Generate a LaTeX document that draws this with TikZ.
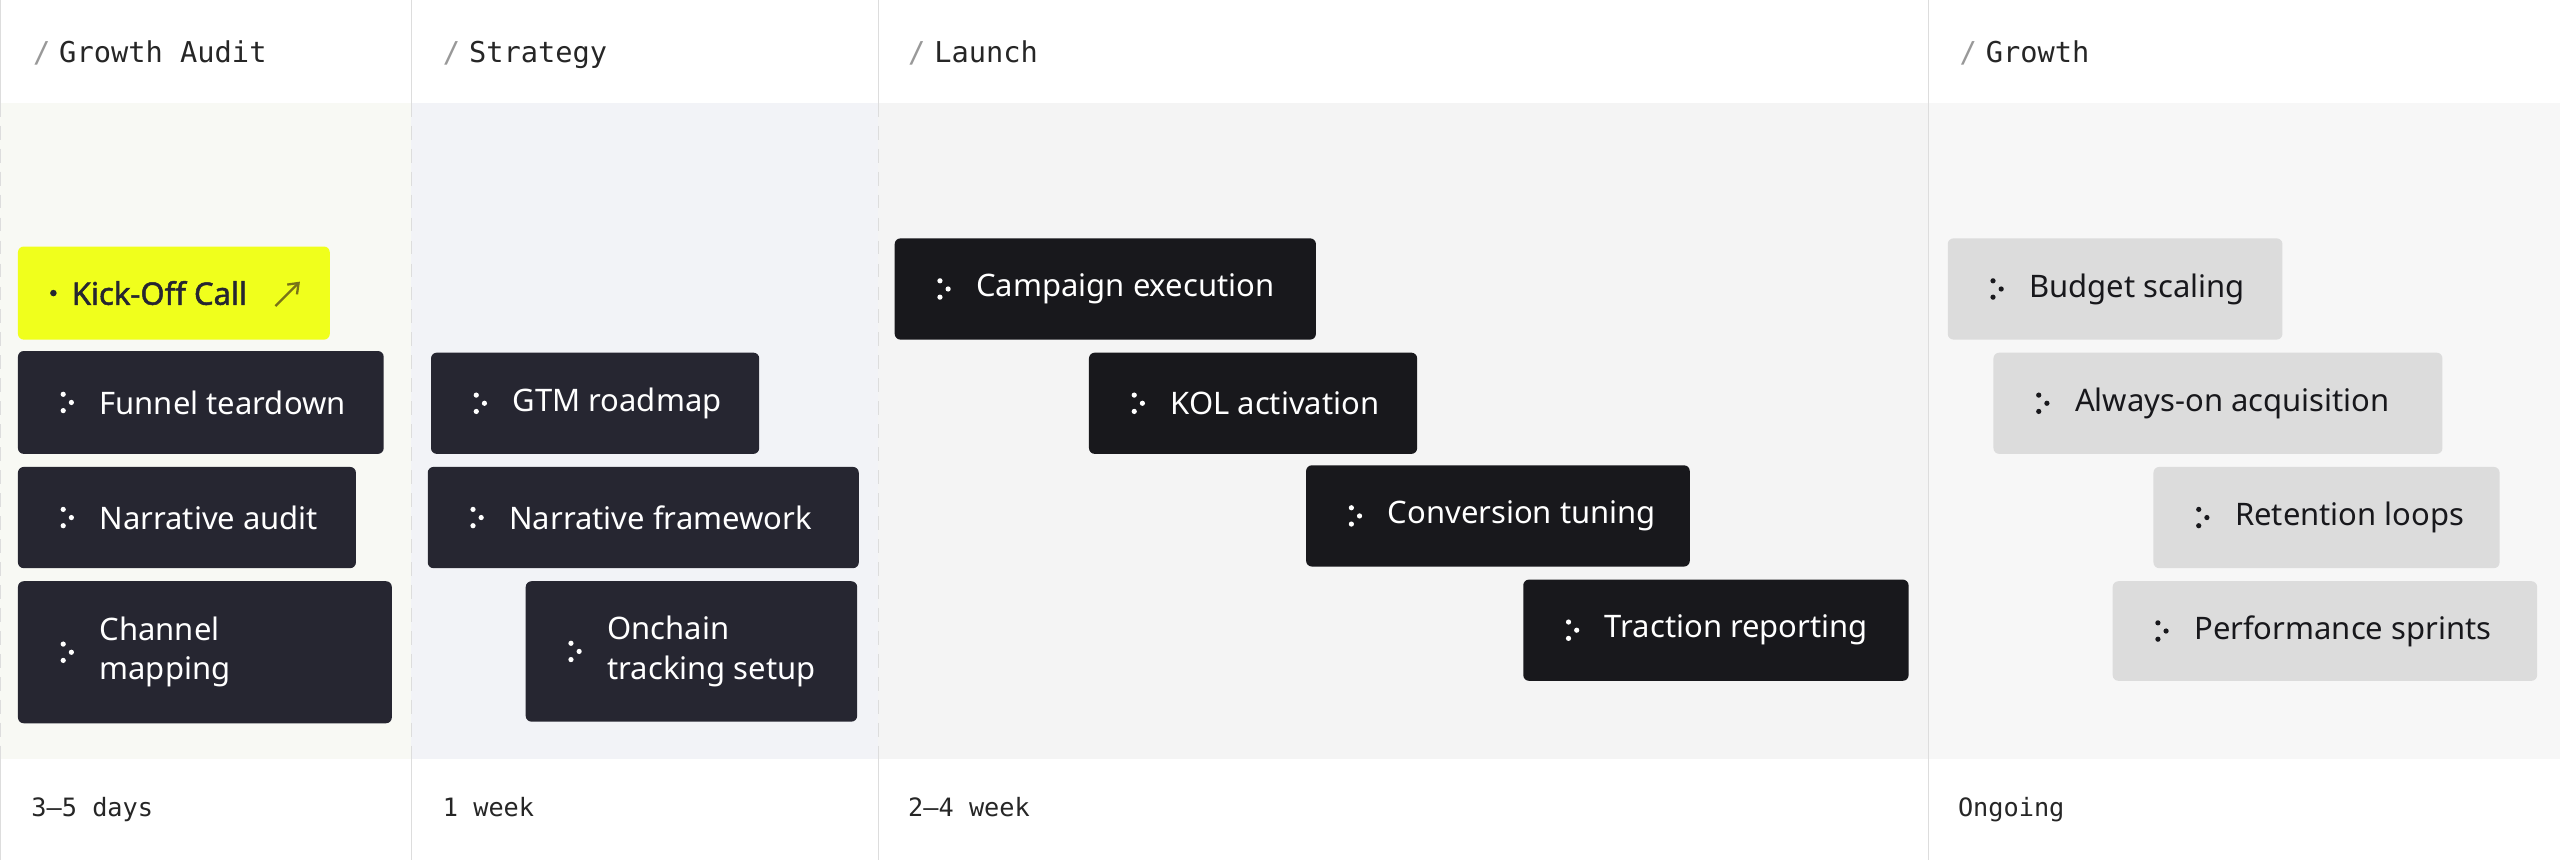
\documentclass[tikz,border=0pt]{standalone}
\usepackage{fontspec}
\setmainfont{Noto Sans}
\newfontfamily\kickfont{Noto Sans}[FakeBold=1.6]
\newfontfamily\monofont{DejaVu Sans Mono}
\usetikzlibrary{positioning,fit,calc,arrows.meta}
\definecolor{inkdark}{HTML}{262631}
\definecolor{inkblack}{HTML}{18181C}
\definecolor{paleA}{HTML}{F8F9F4}
\definecolor{paleB}{HTML}{F2F3F7}
\definecolor{paleC}{HTML}{F4F4F4}
\definecolor{paleD}{HTML}{F7F7F7}
\definecolor{chipgrey}{HTML}{DCDCDC}
\definecolor{kickyellow}{HTML}{F0FF1C}
\definecolor{rulegrey}{HTML}{DDDDDD}
\tikzset{
   darkbox/.style={fill=inkdark, rounded corners=2.5pt, inner sep=0pt},
   blackbox/.style={fill=inkblack, rounded corners=2.5pt, inner sep=0pt},
   greybox/.style={fill=chipgrey, rounded corners=2.5pt, inner sep=0pt},
   kickbox/.style={fill=kickyellow, rounded corners=2.5pt, inner sep=0pt},
   tasktext/.style={anchor=west, inner sep=0pt, font=\fontsize{13.5}{17}\selectfont, align=left},
   phasetitle/.style={anchor=base west, inner sep=0pt, font=\monofont\fontsize{12.5}{14}\selectfont, text=black!85},
   phaseslash/.style={anchor=base west, inner sep=0pt, font=\monofont\fontsize{12.5}{14}\selectfont, text=black!40},
   duration/.style={anchor=base west, inner sep=0pt, font=\monofont\fontsize{11}{12}\selectfont, text=black!85},
}
% one task chip: name, corner, corner, style, text colour, label
\newcommand{\taskchip}[6]{%
   \node[#4, fit={#2 #3}] (#1) {};
   \fill[#5] ($(#1.west)+(28,-5)$) circle (1.6);
   \fill[#5] ($(#1.west)+(28,5)$) circle (1.6);
   \fill[#5] ($(#1.west)+(33,0)$) circle (1.6);
   \node[tasktext, text=#5] at ($(#1.west)+(50,0)$) {#6};
}
\begin{document}
\begin{tikzpicture}[x=0.025cm, y=-0.025cm]
   \useasboundingbox (0,0) rectangle (1568,527);
   \fill[white] (0,0) rectangle (1568,527);

   % column backgrounds
   \fill[paleA] (0,63) rectangle (252,465);
   \fill[paleB] (252,63) rectangle (538,465);
   \fill[paleC] (538,63) rectangle (1181,465);
   \fill[paleD] (1181,63) rectangle (1568,465);

   % column rules
   \foreach \xr in {0,252,538}{
      \draw[rulegrey, line width=0.5pt] (\xr,0) -- (\xr,63);
      \draw[rulegrey, line width=0.5pt, dash pattern=on 6pt off 4pt] (\xr,63) -- (\xr,465);
      \draw[rulegrey, line width=0.5pt] (\xr,465) -- (\xr,527);
   }
   \draw[rulegrey, line width=0.5pt] (1181,0) -- (1181,527);

   % headers
   \node[phaseslash] (s1) at (20,38) {/};
   \node[phasetitle] (h1) at (36,38) {Growth Audit};
   \node[phaseslash] (s2) at (271,38) {/};
   \node[phasetitle] (h2) at (287,38) {Strategy};
   \node[phaseslash] (s3) at (556,38) {/};
   \node[phasetitle] (h3) at (572,38) {Launch};
   \node[phaseslash] (s4) at (1200,38) {/};
   \node[phasetitle] (h4) at (1216,38) {Growth};

   % durations
   \node[duration] (d1) at (19,500) {3–5 days};
   \node[duration] (d2) at (271,500) {1 week};
   \node[duration] (d3) at (556,500) {2–4 week};
   \node[duration] (d4) at (1199,500) {Ongoing};

   % growth audit
   \node[kickbox, fit={(11,151) (202,208)}] (kick) {};
   \fill[inkdark] ($(kick.west)+(22,0)$) circle (2);
   \node[tasktext, text=inkdark, font=\kickfont\fontsize{13.5}{17}\selectfont] (kicklabel) at ($(kick.west)+(33,0)$) {Kick-Off Call};
   \draw[olive!80!black, line width=1pt, -{Straight Barb[length=4pt,width=6pt]}] ($(kick.west)+(158,8)$) -- ++(15,-15);
   \taskchip{funnel}{(11,215)}{(235,278)}{darkbox}{white}{Funnel teardown}
   \taskchip{naraudit}{(11,286)}{(218,348)}{darkbox}{white}{Narrative audit}
   \taskchip{channel}{(11,356)}{(240,443)}{darkbox}{white}{Channel\\mapping}

   % strategy
   \taskchip{gtm}{(264,216)}{(465,278)}{darkbox}{white}{GTM roadmap}
   \taskchip{narframe}{(262,286)}{(526,348)}{darkbox}{white}{Narrative framework}
   \taskchip{onchain}{(322,356)}{(525,442)}{darkbox}{white}{Onchain\\tracking setup}

   % launch
   \taskchip{campaign}{(548,146)}{(806,208)}{blackbox}{white}{Campaign execution}
   \taskchip{kol}{(667,216)}{(868,278)}{blackbox}{white}{KOL activation}
   \taskchip{conversion}{(800,285)}{(1035,347)}{blackbox}{white}{Conversion tuning}
   \taskchip{traction}{(933,355)}{(1169,417)}{blackbox}{white}{Traction reporting}

   % growth
   \taskchip{budget}{(1193,146)}{(1398,208)}{greybox}{inkblack}{Budget scaling}
   \taskchip{alwayson}{(1221,216)}{(1496,278)}{greybox}{inkblack}{Always-on acquisition}
   \taskchip{retention}{(1319,286)}{(1531,348)}{greybox}{inkblack}{Retention loops}
   \taskchip{sprints}{(1294,356)}{(1554,417)}{greybox}{inkblack}{Performance sprints}
\end{tikzpicture}
\end{document}
